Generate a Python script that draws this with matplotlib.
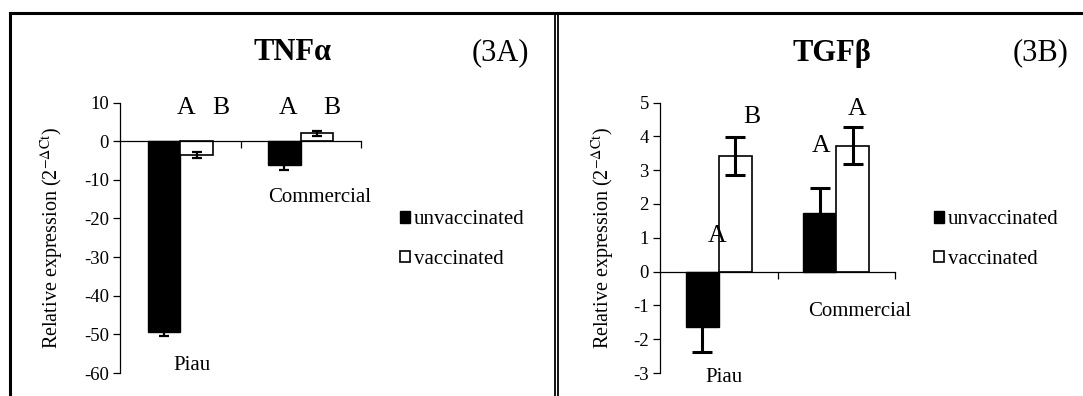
import numpy as np
import matplotlib.pyplot as plt
from matplotlib.lines import Line2D

plt.rcParams['font.family'] = ['Liberation Serif', 'DejaVu Serif']
plt.rcParams['mathtext.fontset'] = 'stix'
plt.rcParams['axes.unicode_minus'] = False

groups = ['Piau', 'Commercial']
series = ['unvaccinated', 'vaccinated']

tnf_unvac = [-49.5, -6.3]
tnf_unvac_err = [1.0, 1.2]
tnf_vac = [-3.6, 2.0]
tnf_vac_err = [0.7, 0.7]
tnf_letters = [['A', 'B'], ['A', 'B']]

tgf_unvac = [-1.63, 1.72]
tgf_unvac_err = [0.75, 0.75]
tgf_vac = [3.42, 3.72]
tgf_vac_err = [0.55, 0.55]
tgf_letters = [['A', 'B'], ['A', 'A']]

W, H = 1083, 396
fig = plt.figure(figsize=(W / 100, H / 100), dpi=100)


def fx(px):
    return px / W


def fy(py):
    return 1 - py / H


def panel(x0, x1, ylo, yhi, ticks, unvac, unvac_err, vac, vac_err, width, capsize, elw):
    ax = fig.add_axes([fx(x0), fy(373), fx(x1) - fx(x0), fy(102.5) - fy(373)])
    x = np.arange(len(groups))
    ax.bar(x - width / 2, unvac, width, color='black', edgecolor='black', linewidth=1,
           yerr=unvac_err, error_kw=dict(ecolor='black', capsize=capsize, elinewidth=elw, capthick=elw),
           label=series[0])
    ax.bar(x + width / 2, vac, width, color='white', edgecolor='black', linewidth=1.2,
           yerr=vac_err, error_kw=dict(ecolor='black', capsize=capsize, elinewidth=elw, capthick=elw),
           label=series[1])
    ax.set_xlim(-0.5, 1.5)
    ax.set_ylim(ylo, yhi)
    ax.set_yticks(ticks)
    ax.set_xticks([0.5, 1.5])
    ax.tick_params(axis='x', labelbottom=False, direction='out', length=5, width=0.9)
    ax.tick_params(axis='y', direction='out', length=5, width=0.9, labelsize=13.5, pad=3)
    ax.spines['top'].set_visible(False)
    ax.spines['right'].set_visible(False)
    ax.spines['bottom'].set_position(('data', 0))
    ax.spines['bottom'].set_linewidth(0.9)
    ax.spines['left'].set_linewidth(0.9)
    ax.patch.set_alpha(0)
    return ax


def add_legend(ax, xpx):
    ax.legend(loc='upper left', bbox_to_anchor=(fx(xpx), fy(210)), bbox_transform=fig.transFigure,
              frameon=False, fontsize=15, handlelength=0.5, handleheight=0.5, handletextpad=0.15,
              labelspacing=1.0, borderpad=0, borderaxespad=0)


# TNFa panel
ax1 = panel(120, 361, -60, 10, np.arange(-60, 11, 10), tnf_unvac, tnf_unvac_err,
            tnf_vac, tnf_vac_err, 0.27, 3.5, 1.6)
for (xp, yp), s in zip([(0.046, 8.7), (0.336, 8.7), (0.891, 8.7), (1.255, 8.7)],
                       sum(tnf_letters, [])):
    ax1.text(xp, yp, s, ha='center', va='center', fontsize=18.5)
ax1.text(0.096, -58.0, groups[0], ha='center', va='center', fontsize=15)
ax1.text(1.156, -14.7, groups[1], ha='center', va='center', fontsize=15)
add_legend(ax1, 400)

# TGFb panel
ax2 = panel(660, 895, -3, 5, np.arange(-3, 6, 1), tgf_unvac, tgf_unvac_err,
            tgf_vac, tgf_vac_err, 0.28, 7, 2.2)
for (xp, yp), s in zip([(-0.015, 1.04), (0.283, 4.56), (0.870, 3.7), (1.177, 4.8)],
                       sum(tgf_letters, [])):
    ax2.text(xp, yp, s, ha='center', va='center', fontsize=18.5)
ax2.text(0.045, -3.14, groups[0], ha='center', va='center', fontsize=15, clip_on=False)
ax2.text(1.20, -1.18, groups[1], ha='center', va='center', fontsize=15)
add_legend(ax2, 934)

# titles and panel tags
fig.text(fx(292), fy(53), 'TNFα', ha='center', va='center', fontsize=22, fontweight='bold')
fig.text(fx(500), fy(53), '(3A)', ha='center', va='center', fontsize=22)
fig.text(fx(832), fy(53), 'TGFβ', ha='center', va='center', fontsize=22, fontweight='bold')
fig.text(fx(1041), fy(53), '(3B)', ha='center', va='center', fontsize=22)

ylab = r'Relative expression (2$^{-\Delta\mathrm{Ct}}$)'
fig.text(fx(52), fy(238), ylab, rotation=90, ha='center', va='center', fontsize=14.5)
fig.text(fx(603), fy(238), ylab, rotation=90, ha='center', va='center', fontsize=14.5)

# panel borders
for xs, ys, lw in [([9.5, 9.5], [400, 13], 2.2), ([9.5, 555], [13, 13], 2.2),
                   ([555, 555], [13, 400], 1.3), ([558, 558], [13, 400], 1.3),
                   ([558, 1090], [13, 13], 2.2)]:
    fig.add_artist(Line2D([fx(v) for v in xs], [fy(v) for v in ys], color='black', linewidth=lw))

fig.savefig('out.png', dpi=100)
